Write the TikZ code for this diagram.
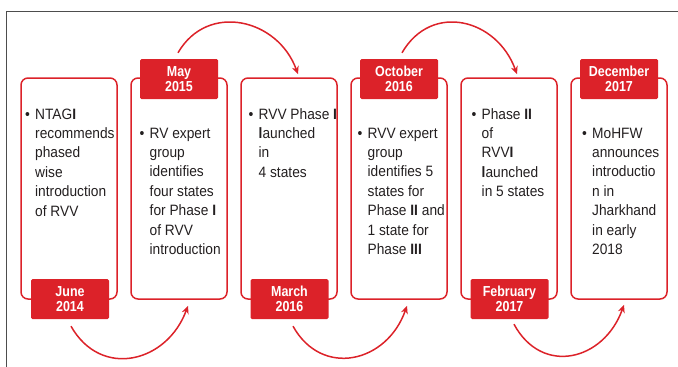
\documentclass[tikz,border=0pt]{standalone}
\usepackage{fontspec}
\setmainfont[FakeStretch=0.915]{Liberation Sans}
\newfontfamily\labfont[FakeStretch=0.86]{Liberation Sans}
\usetikzlibrary{calc,arrows.meta}
\definecolor{tlred}{HTML}{DC2229}
\definecolor{tltext}{HTML}{231F20}
\definecolor{tlframe}{HTML}{4D4D4D}
\begin{document}
\begin{tikzpicture}[x=1pt,y=-1pt,
  eventbox/.style={draw=tlred,line width=1.5pt,rounded corners=7pt,minimum width=96pt,minimum height=221pt,inner sep=0pt},
  datelabel/.style={fill=tlred,rounded corners=1.5pt,minimum width=78pt,minimum height=40pt,inner sep=0pt,text=white,align=center,font=\labfont\bfseries\fontsize{14.5}{15.5}\selectfont},
  bodytext/.style={anchor=base west,inner sep=0pt,text=tltext,font=\fontsize{15}{19.4}\selectfont},
  arc/.style={draw=tlred,line width=1.5pt,-{Stealth[length=8pt,width=7pt]}}]
\useasboundingbox (0,0) rectangle (678,367);
\draw[tlframe,line width=1pt] (6,367) -- (6,11) -- (678,11);
% boxes
\node[eventbox] (b1) at (69,188.5) {};
\node[eventbox] (b2) at (179,188.5) {};
\node[eventbox] (b3) at (289,188.5) {};
\node[eventbox] (b4) at (399,188.5) {};
\node[eventbox] (b5) at (509,188.5) {};
\node[eventbox] (b6) at (619,188.5) {};
% labels
\node[datelabel] (l1) at (70,299) {June\\2014};
\node[datelabel] (l2) at (179,79) {May\\2015};
\node[datelabel] (l3) at (289.5,299) {March\\2016};
\node[datelabel] (l4) at (399,79) {October\\2016};
\node[datelabel] (l5) at (509.5,299) {February\\2017};
\node[datelabel] (l6) at (619,79) {December\\2017};
% texts
\newcommand{\bcol}{@{}p{10pt}@{}l@{}}
\node[bodytext] (t1) at (25,119) {\begin{tabular}[t]{\bcol}\textbullet & NTAG\textbf{I}\\ & recommends\\ & phased\\ & wise\\ & introduction\\ & of RVV\end{tabular}};
\node[bodytext] (t2) at (139.5,138) {\begin{tabular}[t]{\bcol}\textbullet & RV expert\\ & group\\ & identifies\\ & four states\\ & for Phase \textbf{I}\\ & of RVV\\ & introduction\end{tabular}};
\node[bodytext] (t3) at (248.5,119) {\begin{tabular}[t]{\bcol}\textbullet & RVV Phase \textbf{I}\\ & \textbf{l}aunched\\ & in\\ & 4 states\end{tabular}};
\node[bodytext] (t4) at (357.5,138) {\begin{tabular}[t]{\bcol}\textbullet & RVV expert\\ & group\\ & identifies 5\\ & states for\\ & Phase \textbf{II} and\\ & 1 state for\\ & Phase \textbf{III}\end{tabular}};
\node[bodytext] (t5) at (471.5,119) {\begin{tabular}[t]{\bcol}\textbullet & Phase \textbf{II}\\ & of\\ & RVV\textbf{I}\\ & \textbf{l}aunched\\ & in 5 states\end{tabular}};
\node[bodytext] (t6) at (582,138) {\begin{tabular}[t]{\bcol}\textbullet & MoHFW\\ & announces\\ & introductio\\ & n in\\ & Jharkhand\\ & in early\\ & 2018\end{tabular}};
% arc end points
\coordinate (s1) at ($(l1.south)+(1,7)$);
\coordinate (e1) at ($(b2.south)+(9,6)$);
\coordinate (s2) at ($(l2.north)+(-1,-6)$);
\coordinate (e2) at ($(b3.north)+(9,-3)$);
\coordinate (s3) at ($(l3.south)+(3.5,7)$);
\coordinate (e3) at ($(b4.south)+(8,6)$);
\coordinate (s4) at ($(l4.north)+(3,-6)$);
\coordinate (e4) at ($(b5.north)+(8,-3)$);
\coordinate (s5) at ($(l5.south)+(4.5,5)$);
\coordinate (e5) at ($(b6.south)+(5,5)$);
\draw[arc] (s1) .. controls ($(s1)+(30,53)$) and ($(e1)+(-21,57)$) .. (e1);
\draw[arc] (s3) .. controls ($(s3)+(29,52)$) and ($(e3)+(-20,57)$) .. (e3);
\draw[arc] (s5) .. controls ($(s5)+(28,52)$) and ($(e5)+(-20,56)$) .. (e5);
\draw[arc] (s2) .. controls ($(s2)+(29.5,-51)$) and ($(e2)+(-20,-55.5)$) .. (e2);
\draw[arc] (s4) .. controls ($(s4)+(29.5,-51)$) and ($(e4)+(-20,-55.5)$) .. (e4);
\end{tikzpicture}
\end{document}
